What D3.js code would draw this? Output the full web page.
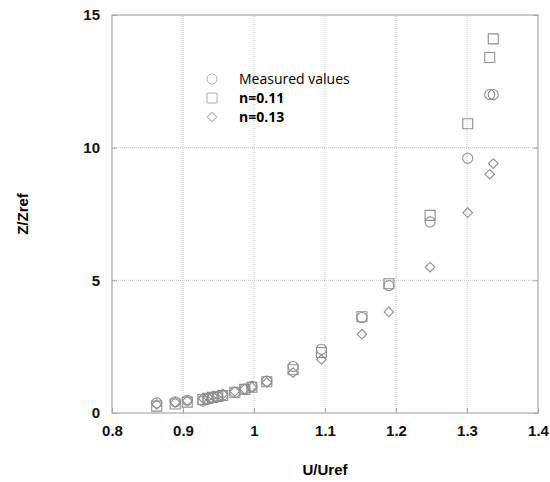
<!DOCTYPE html>
<html>
<head>
<meta charset="utf-8">
<script src="https://cdn.jsdelivr.net/npm/d3@7.9.0/dist/d3.min.js"></script>
<style>
  body { margin: 0; background: #fff; }
  svg { display: block; }
  .tick text { font-family: "Liberation Sans", Arial, sans-serif; font-weight: bold; font-size: 15px; fill: #111; }
</style>
</head>
<body>
<div id="chart"></div>
<script>
// U/Uref for every measurement height
const uRatio = [0.863, 0.889, 0.906, 0.928, 0.935, 0.942, 0.949, 0.956, 0.973, 0.987,
  0.997, 1.018, 1.055, 1.095, 1.152, 1.190, 1.248, 1.301, 1.332, 1.337];
const measured = [0.38, 0.42, 0.48, 0.45, 0.52, 0.58, 0.62, 0.68, 0.78, 0.9,
  1.0, 1.2, 1.75, 2.4, 3.6, 4.8, 7.2, 9.6, 12.0, 12.0];
const n011 = [0.26, 0.34, 0.41, 0.51, 0.55, 0.59, 0.62, 0.66, 0.78, 0.89,
  0.97, 1.18, 1.63, 2.28, 3.63, 4.87, 7.45, 10.9, 13.4, 14.1];
const n013 = [0.32, 0.40, 0.46, 0.56, 0.60, 0.64, 0.67, 0.71, 0.81, 0.9,
  0.98, 1.15, 1.52, 2.02, 2.97, 3.81, 5.5, 7.55, 9.0, 9.4];

const xTicks = [0.8, 0.9, 1, 1.1, 1.2, 1.3, 1.4];
const yTicks = [0, 5, 10, 15];
const seriesNames = ["Measured values", "n=0.11", "n=0.13"];

const width = 550;
const height = 482;
const margin = { top: 15, right: 12, bottom: 69, left: 112 };
const markColor = "#8f8f8f";

const svg = d3.select("#chart").append("svg")
  .attr("width", width)
  .attr("height", height);

const x = d3.scaleLinear().domain([0.8, 1.4]).range([margin.left, width - margin.right]);
const y = d3.scaleLinear().domain([0, 15]).range([height - margin.bottom, margin.top]);

// dotted grid
const grid = svg.append("g");
grid.selectAll("line.v")
  .data(xTicks.slice(1, -1))
  .join("line")
  .attr("x1", (d) => x(d)).attr("x2", (d) => x(d))
  .attr("y1", y(0)).attr("y2", y(15))
  .attr("stroke", "#c4c4c4").attr("stroke-dasharray", "1,1");
grid.selectAll("line.h")
  .data(yTicks.slice(1, -1))
  .join("line")
  .attr("y1", (d) => y(d)).attr("y2", (d) => y(d))
  .attr("x1", x(0.8)).attr("x2", x(1.4))
  .attr("stroke", "#c4c4c4").attr("stroke-dasharray", "1,1");

// axes with inward ticks
svg.append("g")
  .attr("transform", `translate(0,${y(0)})`)
  .call(d3.axisBottom(x).tickValues(xTicks).tickFormat(d3.format("~g")).tickSizeInner(-5).tickSizeOuter(0).tickPadding(12));
svg.append("g")
  .attr("transform", `translate(${x(0.8)},0)`)
  .call(d3.axisLeft(y).tickValues(yTicks).tickSizeInner(-5).tickSizeOuter(0).tickPadding(12));
svg.append("g")
  .attr("transform", `translate(${x(1.4)},0)`)
  .call(d3.axisRight(y).tickValues(yTicks).tickFormat("").tickSizeInner(-5).tickSizeOuter(0));
svg.selectAll(".domain").remove();
svg.selectAll(".tick line").attr("stroke", "#a8a8a8");

svg.append("rect")
  .attr("x", x(0.8)).attr("y", y(15))
  .attr("width", x(1.4) - x(0.8)).attr("height", y(0) - y(15))
  .attr("fill", "none").attr("stroke", "#a8a8a8").attr("stroke-width", 1.2);

// axis titles
svg.append("text")
  .attr("x", (x(0.8) + x(1.4)) / 2).attr("y", 475)
  .attr("text-anchor", "middle")
  .style("font", "bold 15px 'Liberation Sans', Arial, sans-serif")
  .text("U/Uref");
svg.append("text")
  .attr("transform", `translate(28,${(y(0) + y(15)) / 2}) rotate(-90)`)
  .attr("text-anchor", "middle")
  .style("font", "bold 15px 'Liberation Sans', Arial, sans-serif")
  .text("Z/Zref");

// circle, square, and a square turned 45 degrees for the diamond
const symbols = [
  { path: d3.symbol(d3.symbolCircle, 80)(), rotate: 0 },
  { path: d3.symbol(d3.symbolSquare, 100)(), rotate: 0 },
  { path: d3.symbol(d3.symbolSquare, 46)(), rotate: 45 },
];
const series = [measured, n011, n013];

const dots = svg.append("g");
series.forEach((values, i) => {
  dots.append("g")
    .selectAll("path")
    .data(uRatio.map((u, j) => [u, values[j]]))
    .join("path")
    .attr("transform", (d) => `translate(${x(d[0])},${y(d[1])}) rotate(${symbols[i].rotate})`)
    .attr("d", symbols[i].path)
    .attr("fill", "none")
    .attr("stroke", markColor)
    .attr("stroke-width", 1.1);
});

// legend
const legend = svg.append("g").attr("transform", "translate(212,79)");
seriesNames.forEach((name, i) => {
  const row = legend.append("g").attr("transform", `translate(0,${i * 19})`);
  row.append("path")
    .attr("transform", `rotate(${symbols[i].rotate})`)
    .attr("d", symbols[i].path)
    .attr("fill", "none")
    .attr("stroke", "#b0b0b0")
    .attr("stroke-width", 1);
  row.append("text")
    .attr("x", 27).attr("y", 5)
    .style("font-family", "'Open Sans', sans-serif")
    .style("font-size", "14px")
    .style("font-weight", i === 0 ? "normal" : "bold")
    .text(name);
});
</script>
</body>
</html>
